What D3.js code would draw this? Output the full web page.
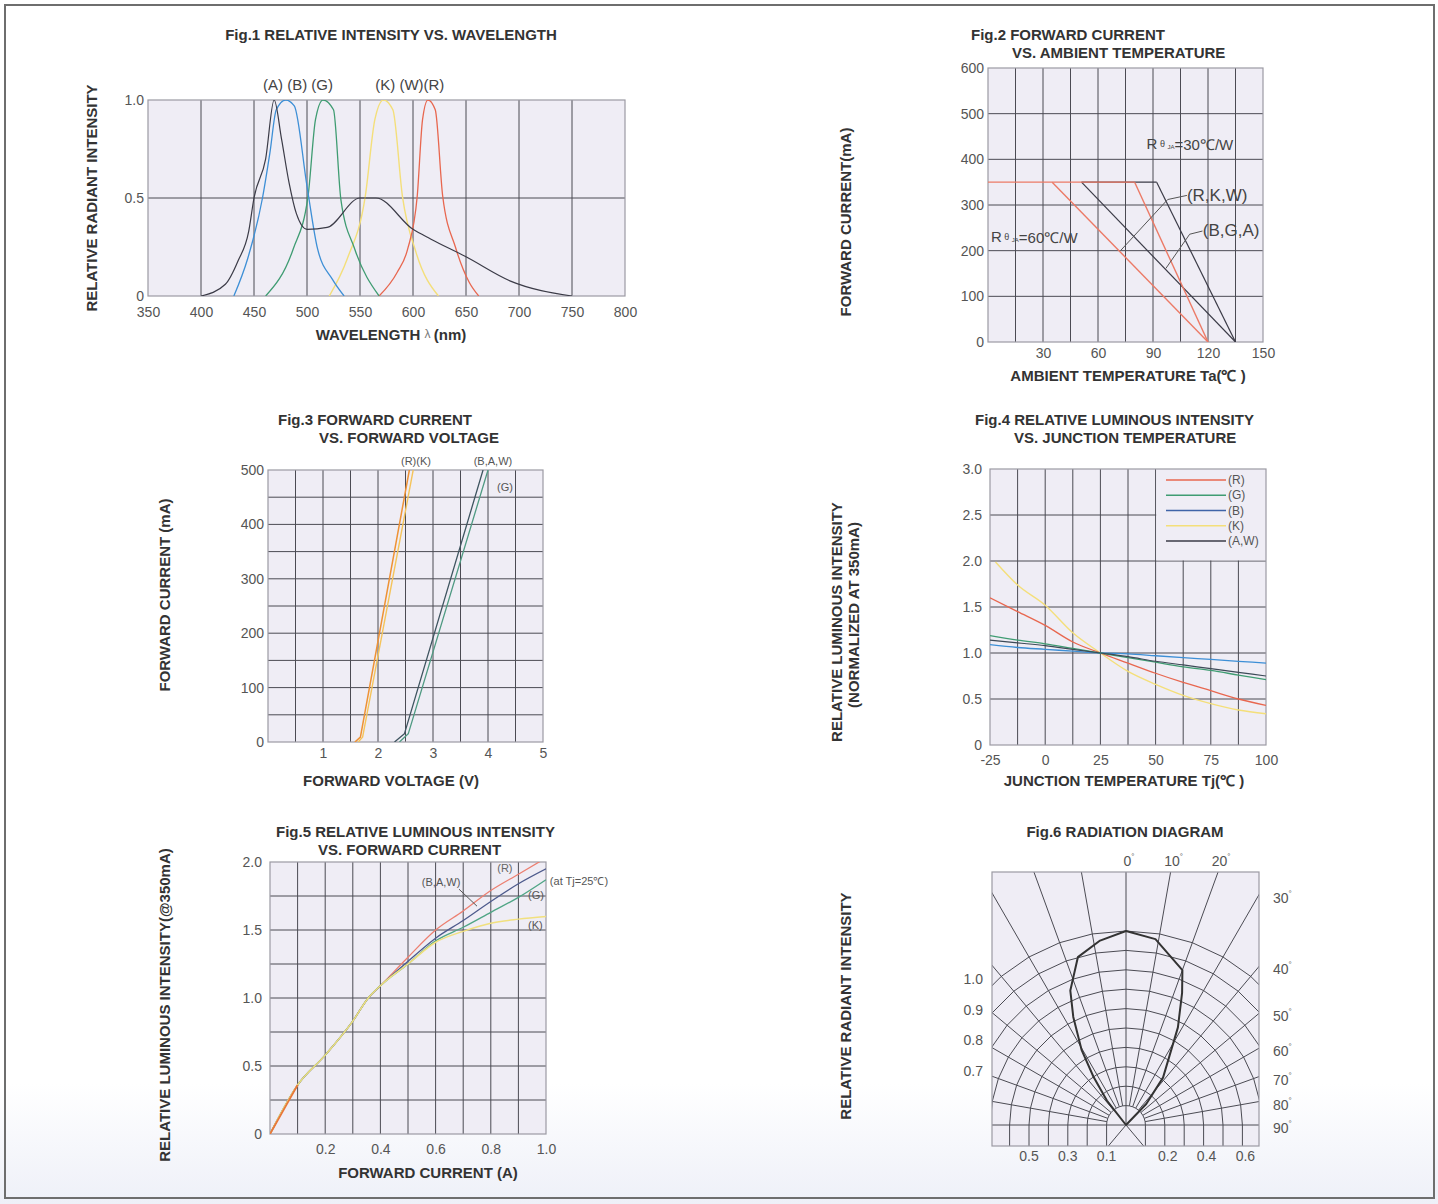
<!DOCTYPE html>
<html>
<head>
<meta charset="utf-8">
<script src="https://cdn.jsdelivr.net/npm/d3@7"></script>
<style>
  body { margin: 0; background: #fff; }
  svg text { font-family: "Liberation Sans", Arial, Helvetica, sans-serif; }
</style>
</head>
<body>
<svg id="chart" width="1438" height="1204"></svg>
<script>
// ---------- data ----------
// Fig.1 relative intensity vs wavelength
var specA_nm  = [400, 423, 435, 445, 450, 461, 469, 476, 483, 490, 500, 519, 550, 565, 600, 617, 650, 692, 750];
var specA_val = [0, 0.06, 0.18, 0.33, 0.5, 0.7, 1.0, 0.8, 0.58, 0.42, 0.34, 0.35, 0.5, 0.5, 0.34, 0.29, 0.2, 0.076, 0];
var specB_nm  = [431, 444, 458, 465, 471, 480, 488, 500, 510, 524, 535];
var specB_val = [0, 0.19, 0.5, 0.73, 0.95, 1.0, 0.97, 0.56, 0.24, 0.085, 0];
var specG_nm  = [461, 487, 501, 508, 515, 525, 532, 545, 568];
var specG_val = [0, 0.24, 0.51, 0.9, 1.0, 0.95, 0.49, 0.24, 0];
var specK_nm  = [521, 538, 555, 564, 572, 581, 590, 603, 624];
var specK_val = [0, 0.19, 0.51, 0.9, 1.0, 0.95, 0.51, 0.22, 0];
var specR_nm  = [568, 585, 595, 604, 609, 614, 621, 628, 640, 653, 662];
var specR_val = [0, 0.12, 0.24, 0.51, 0.9, 1.0, 0.95, 0.51, 0.25, 0.07, 0];

// Fig.2 forward current vs ambient temperature (derating)
var derRedFlat_T = [0, 80],   derRedFlat_I = [350, 350];
var derRed60_T   = [35, 120], derRed60_I   = [350, 0];
var derRed30_T   = [80, 120], derRed30_I   = [350, 0];
var derDkFlat_T  = [51, 92],  derDkFlat_I  = [350, 350];
var derDk60_T    = [51, 135], derDk60_I    = [350, 0];
var derDk30_T    = [92, 135], derDk30_I    = [350, 0];
var leadRKW_T = [108.5, 98, 72.5], leadRKW_I = [321, 312, 201];
var leadBGA_T = [117, 110, 97],    leadBGA_I = [243, 236, 161];

// Fig.3 forward current vs forward voltage
var ivR_V = [1.58, 1.68, 2.57], ivR_I = [0, 9, 500];
var ivK_V = [1.64, 1.72, 2.64], ivK_I = [0, 9, 500];
var ivB_V = [2.30, 2.48, 3.91], ivB_I = [0, 15, 500];
var ivG_V = [2.39, 2.55, 4.00], ivG_I = [0, 15, 500];

// Fig.4 relative luminous intensity vs junction temperature
var tj      = [-25, -12.5, 0, 12.5, 25, 37.5, 50, 62.5, 75, 87.5, 100];
var tjR     = [1.60, 1.45, 1.30, 1.12, 1.0, 0.89, 0.78, 0.68, 0.59, 0.50, 0.43];
var tjG     = [1.19, 1.14, 1.10, 1.05, 1.0, 0.95, 0.90, 0.85, 0.81, 0.76, 0.71];
var tjB     = [1.09, 1.06, 1.04, 1.02, 1.0, 0.99, 0.97, 0.95, 0.93, 0.91, 0.89];
var tjAW    = [1.14, 1.11, 1.08, 1.04, 1.0, 0.96, 0.91, 0.87, 0.83, 0.79, 0.75];
var tjK_T   = [-22.5, -12.5, 0, 12.5, 25, 37.5, 50, 62.5, 75, 87.5, 100];
var tjK     = [1.99, 1.74, 1.52, 1.22, 1.0, 0.80, 0.66, 0.54, 0.45, 0.38, 0.34];
var tjNames = ["(R)", "(G)", "(B)", "(K)", "(A,W)"];

// Fig.5 relative luminous intensity vs forward current
var ifA  = [0, 0.1, 0.2, 0.3, 0.356, 0.4, 0.5, 0.6, 0.7, 0.8, 0.9, 1.0];
var ifR  = [0, 0.36, 0.58, 0.83, 1.0, 1.09, 1.30, 1.50, 1.64, 1.79, 1.91, 2.03];
var ifB  = [0, 0.36, 0.58, 0.83, 1.0, 1.09, 1.27, 1.44, 1.57, 1.71, 1.84, 1.95];
var ifG  = [0, 0.36, 0.58, 0.83, 1.0, 1.09, 1.25, 1.42, 1.52, 1.63, 1.74, 1.87];
var ifK  = [0, 0.36, 0.58, 0.83, 1.0, 1.09, 1.25, 1.41, 1.49, 1.55, 1.58, 1.60];
var ifStart_A = [0, 0.1], ifStart_V = [0, 0.36];
var leadBAW_A = [0.685, 0.75], leadBAW_V = [1.80, 1.675];

// Fig.6 radiation diagram
var radAngle = [-40, -38, -34, -30.6, -26, -22.5, -16, -8, 0, 9, 20, 23, 28, 38, 44, 46];
var radValue = [0, 0.16, 0.30, 0.45, 0.62, 0.75, 0.90, 0.96, 1.0, 0.97, 0.85, 0.74, 0.57, 0.31, 0.15, 0];
var radRings = [0.1, 0.2, 0.3, 0.4, 0.5, 0.6, 0.7, 0.8, 0.9, 1.0];
var radSpokes = d3.range(-80, 81, 10);
var radFullSpokes = [-140, -90, 0, 90, 140];
var radTopLabels = [0, 10, 20];
var radSideLabels = [30, 40, 50, 60, 70, 80, 90];
var radLeftVals = [1.0, 0.9, 0.8, 0.7];
var radBotLeft = [0.5, 0.3, 0.1];
var radBotRight = [0.2, 0.4, 0.6];

// ---------- setup ----------
var svg = d3.select("#chart");
var defs = svg.append("defs");
var plotBg = "#efedf5", gridCol = "#4b4b53", edgeCol = "#9b9aa3", tickCol = "#555";
var cRed = "#e8674f", cBlue = "#3d8fd6", cGreen = "#3f9c72", cYellow = "#f4df7a", cDark = "#3b3b47";
var clipN = 0;

var pg = defs.append("linearGradient").attr("id", "pagegrad")
    .attr("x1", 0).attr("y1", 0).attr("x2", 0).attr("y2", 1);
pg.append("stop").attr("offset", "0.9").attr("stop-color", "#ffffff");
pg.append("stop").attr("offset", "1").attr("stop-color", "#eef0f8");
svg.append("rect").attr("width", 1438).attr("height", 1204).attr("fill", "url(#pagegrad)");
svg.append("rect").attr("x", 5).attr("y", 5).attr("width", 1429).attr("height", 1193)
    .attr("fill", "none").attr("stroke", "#6e6e6e").attr("stroke-width", 2);

function label(txt, x, y, o) {
    o = o || {};
    var t = svg.append("text")
        .attr("x", x).attr("y", y)
        .attr("font-size", o.size || 15)
        .attr("font-weight", o.bold === false ? "normal" : "bold")
        .attr("fill", o.fill || "#333")
        .attr("text-anchor", o.anchor || "middle")
        .attr("dominant-baseline", "central")
        .text(txt);
    if (o.rotate) t.attr("transform", "rotate(-90," + x + "," + y + ")");
    return t;
}

function makePanel(o) {
    var x = d3.scaleLinear().domain(o.xd).range([o.l, o.r]);
    var y = d3.scaleLinear().domain(o.yd).range([o.b, o.t]);
    var g = svg.append("g");
    g.append("rect").attr("x", o.l).attr("y", o.t)
        .attr("width", o.r - o.l).attr("height", o.b - o.t).attr("fill", plotBg);
    g.selectAll(null).data(o.xg).enter().append("line")
        .attr("x1", function (d) { return x(d); }).attr("x2", function (d) { return x(d); })
        .attr("y1", o.t).attr("y2", o.b)
        .attr("stroke", gridCol).attr("stroke-width", 1);
    g.selectAll(null).data(o.yg).enter().append("line")
        .attr("y1", function (d) { return y(d); }).attr("y2", function (d) { return y(d); })
        .attr("x1", o.l).attr("x2", o.r)
        .attr("stroke", gridCol).attr("stroke-width", 1);
    if (o.cover) {
        g.append("rect")
            .attr("x", x(o.cover[0]) + 0.6).attr("y", y(o.cover[3]))
            .attr("width", x(o.cover[1]) - x(o.cover[0]) - 0.6)
            .attr("height", y(o.cover[2]) - y(o.cover[3]) - 0.6)
            .attr("fill", plotBg);
    }
    g.append("rect").attr("x", o.l).attr("y", o.t)
        .attr("width", o.r - o.l).attr("height", o.b - o.t)
        .attr("fill", "none").attr("stroke", edgeCol).attr("stroke-width", 1.2);

    var cid = "clip" + (clipN++);
    defs.append("clipPath").attr("id", cid).append("rect")
        .attr("x", o.l).attr("y", o.t).attr("width", o.r - o.l).attr("height", o.b - o.t);
    var plot = svg.append("g").attr("clip-path", "url(#" + cid + ")");

    var xa = svg.append("g").attr("transform", "translate(0," + o.b + ")").attr("color", tickCol)
        .call(d3.axisBottom(x).tickValues(o.xt).tickFormat(o.xf || function (d) { return d; })
            .tickSize(0).tickPadding(o.xp));
    xa.select(".domain").remove();
    xa.selectAll("text").attr("font-size", 14).attr("font-family", null);

    var ya = svg.append("g").attr("transform", "translate(" + o.l + ",0)").attr("color", tickCol)
        .call(d3.axisLeft(y).tickValues(o.yt).tickFormat(o.yf || function (d) { return d; })
            .tickSize(0).tickPadding(o.yp));
    ya.select(".domain").remove();
    ya.selectAll("text").attr("font-size", 14).attr("font-family", null);

    return { x: x, y: y, plot: plot };
}

function drawLine(p, xs, ys, color, w, curve, layer) {
    var pts = xs.map(function (v, i) { return [v, ys[i]]; });
    (layer || p.plot).append("path").datum(pts)
        .attr("d", d3.line()
            .x(function (d) { return p.x(d[0]); })
            .y(function (d) { return p.y(d[1]); })
            .curve(curve || d3.curveLinear))
        .attr("fill", "none").attr("stroke", color).attr("stroke-width", w || 1.3)
        .attr("stroke-linejoin", "round");
}

function oneDec(d) { return d === 0 ? "0" : d.toFixed(1); }

// ---------- Fig.1 ----------
var p1 = makePanel({
    l: 148, r: 625, t: 100, b: 296, xd: [350, 800], yd: [0, 1],
    xg: d3.range(400, 751, 50), yg: [0.5],
    xt: d3.range(350, 801, 50), yt: [0, 0.5, 1], yf: oneDec, xp: 11, yp: 4
});
drawLine(p1, specK_nm, specK_val, cYellow, 1.4, d3.curveMonotoneX);
drawLine(p1, specR_nm, specR_val, cRed, 1.3, d3.curveMonotoneX);
drawLine(p1, specG_nm, specG_val, cGreen, 1.3, d3.curveMonotoneX);
drawLine(p1, specB_nm, specB_val, cBlue, 1.3, d3.curveMonotoneX);
drawLine(p1, specA_nm, specA_val, cDark, 1.2, d3.curveMonotoneX);
label("Fig.1 RELATIVE INTENSITY VS. WAVELENGTH", 391, 34);
label("RELATIVE RADIANT INTENSITY", 91, 198, { rotate: true });
var wl = label("WAVELENGTH ", 391, 334);
wl.append("tspan").attr("font-weight", "normal").attr("font-size", 12).attr("fill", "#777").text(" λ ");
wl.append("tspan").text("(nm)");
label("(A) (B) (G)", p1.x(491.5), p1.y(1.077), { bold: false, size: 15, fill: "#444" });
label("(K) (W)(R)", p1.x(597), p1.y(1.077), { bold: false, size: 15, fill: "#444" });

// ---------- Fig.2 ----------
var p2 = makePanel({
    l: 988, r: 1263, t: 68, b: 342, xd: [0, 150], yd: [0, 600],
    xg: d3.range(15, 136, 15), yg: d3.range(100, 501, 100),
    xt: [30, 60, 90, 120, 150], yt: d3.range(0, 601, 100), xp: 6, yp: 4
});
var redD = "#ec7a66";
drawLine(p2, derDk60_T, derDk60_I, cDark, 1.2);
drawLine(p2, derDk30_T, derDk30_I, cDark, 1.2);
drawLine(p2, derDkFlat_T, derDkFlat_I, cDark, 1.2);
drawLine(p2, derRedFlat_T, derRedFlat_I, redD, 1.4);
drawLine(p2, derRed60_T, derRed60_I, redD, 1.4);
drawLine(p2, derRed30_T, derRed30_I, redD, 1.4);
drawLine(p2, leadRKW_T, leadRKW_I, "#555", 1, d3.curveLinear);
drawLine(p2, leadBGA_T, leadBGA_I, "#555", 1, d3.curveLinear);
label("Fig.2 FORWARD CURRENT", 971, 34, { anchor: "start" });
label("VS. AMBIENT TEMPERATURE", 1012, 52, { anchor: "start" });
label("FORWARD CURRENT(mA)", 845, 222, { rotate: true });
label("AMBIENT TEMPERATURE Ta(℃ )", 1128, 375);
function rTheta(txt, T, I) {
    var t = label("R", p2.x(T), p2.y(I), { anchor: "start", bold: false, size: 15, fill: "#444" });
    t.append("tspan").attr("font-size", 9).text(" θ ");
    t.append("tspan").attr("font-size", 6).attr("dy", 3).text("JA");
    t.append("tspan").attr("dy", -3).text("=" + txt + "℃/W");
}
rTheta("30", 86.5, 434);
rTheta("60", 1.6, 231);
label("(R,K,W)", p2.x(108.5), p2.y(321), { anchor: "start", bold: false, size: 17, fill: "#444" });
label("(B,G,A)", p2.x(117.2), p2.y(244), { anchor: "start", bold: false, size: 17, fill: "#444" });

// ---------- Fig.3 ----------
var p3 = makePanel({
    l: 268, r: 543, t: 470, b: 742, xd: [0, 5], yd: [0, 500],
    xg: d3.range(0.5, 4.6, 0.5), yg: d3.range(50, 451, 50),
    xt: [1, 2, 3, 4, 5], yt: d3.range(0, 501, 100), xp: 6, yp: 4
});
drawLine(p3, ivK_V, ivK_I, "#f5c45a", 1.4);
drawLine(p3, ivR_V, ivR_I, "#ee9235", 1.5);
drawLine(p3, ivG_V, ivG_I, "#4f9a82", 1.3);
drawLine(p3, ivB_V, ivB_I, "#3f5560", 1.3);
label("Fig.3 FORWARD CURRENT", 278, 419, { anchor: "start" });
label("VS. FORWARD VOLTAGE", 319, 437, { anchor: "start" });
label("FORWARD CURRENT (mA)", 164, 595, { rotate: true });
label("FORWARD VOLTAGE (V)", 391, 780);
label("(R)(K)", p3.x(2.69), p3.y(516), { bold: false, size: 11, fill: "#555" });
label("(B,A,W)", p3.x(4.09), p3.y(516), { bold: false, size: 11, fill: "#555" });
label("(G)", p3.x(4.31), p3.y(469), { bold: false, size: 11, fill: "#555" });

// ---------- Fig.4 ----------
var p4 = makePanel({
    l: 990, r: 1266, t: 469, b: 745, xd: [-25, 100], yd: [0, 3],
    xg: d3.range(-12.5, 88, 12.5), yg: [0.5, 1, 1.5, 2, 2.5],
    xt: [-25, 0, 25, 50, 75, 100], yt: [0, 0.5, 1, 1.5, 2, 2.5, 3], yf: oneDec, xp: 10, yp: 8,
    cover: [50, 100, 2, 3]
});
var tjColors = [cRed, cGreen, "#3f64a8", cYellow, cDark];
drawLine(p4, tjK_T, tjK, cYellow, 1.4, d3.curveMonotoneX);
drawLine(p4, tj, tjR, cRed, 1.3, d3.curveMonotoneX);
drawLine(p4, tj, tjB, cBlue, 1.3, d3.curveMonotoneX);
drawLine(p4, tj, tjG, cGreen, 1.3, d3.curveMonotoneX);
drawLine(p4, tj, tjAW, "#3d4a58", 1.2, d3.curveMonotoneX);
var legY = d3.scalePoint().domain(tjNames).range([480, 541]);
var leg = svg.append("g");
leg.selectAll(null).data(tjNames).enter().append("line")
    .attr("x1", 1166).attr("x2", 1226)
    .attr("y1", function (d) { return legY(d); }).attr("y2", function (d) { return legY(d); })
    .attr("stroke", function (d, i) { return tjColors[i]; }).attr("stroke-width", 1.3);
leg.selectAll(null).data(tjNames).enter().append("text")
    .attr("x", 1228).attr("y", function (d) { return legY(d); })
    .attr("dominant-baseline", "central").attr("font-size", 12).attr("fill", "#555")
    .text(function (d) { return d; });
label("Fig.4 RELATIVE LUMINOUS INTENSITY", 975, 419, { anchor: "start" });
label("VS. JUNCTION TEMPERATURE", 1014, 437, { anchor: "start" });
label("RELATIVE LUMINOUS INTENSITY", 836, 622, { rotate: true });
label("(NORMALIZED AT 350mA)", 853, 615, { rotate: true });
label("JUNCTION TEMPERATURE Tj(℃ )", 1124, 780);

// ---------- Fig.5 ----------
var p5 = makePanel({
    l: 270, r: 546, t: 862, b: 1134, xd: [0, 1], yd: [0, 2],
    xg: d3.range(0.1, 0.95, 0.1), yg: d3.range(0.25, 1.8, 0.25),
    xt: [0.2, 0.4, 0.6, 0.8, 1.0], xf: function (d) { return d.toFixed(1); },
    yt: [0, 0.5, 1, 1.5, 2], yf: oneDec, xp: 10, yp: 8
});
drawLine(p5, ifA, ifR, "#ec7f70", 1.3, d3.curveMonotoneX);
drawLine(p5, ifA, ifB, "#4d5a8c", 1.3, d3.curveMonotoneX);
drawLine(p5, ifA, ifG, "#4fa585", 1.3, d3.curveMonotoneX);
drawLine(p5, ifA, ifK, "#f1e07e", 1.5, d3.curveMonotoneX);
drawLine(p5, ifStart_A, ifStart_V, "#e8763a", 1.8);
drawLine(p5, leadBAW_A, leadBAW_V, "#555", 1);
label("Fig.5 RELATIVE LUMINOUS INTENSITY", 276, 831, { anchor: "start" });
label("VS. FORWARD CURRENT", 318, 849, { anchor: "start" });
label("RELATIVE LUMINOUS INTENSITY(@350mA)", 164, 1005, { rotate: true });
label("FORWARD CURRENT (A)", 428, 1172);
label("(R)", p5.x(0.851), p5.y(1.956), { bold: false, size: 11, fill: "#666" });
label("(B,A,W)", p5.x(0.62), p5.y(1.85), { bold: false, size: 11, fill: "#555" });
label("(at Tj=25℃)", p5.x(1.014), p5.y(1.86), { anchor: "start", bold: false, size: 11, fill: "#555" });
label("(G)", p5.x(0.935), p5.y(1.76), { anchor: "start", bold: false, size: 11, fill: "#555" });
label("(K)", p5.x(0.935), p5.y(1.54), { anchor: "start", bold: false, size: 11, fill: "#555" });

// ---------- Fig.6 ----------
var box = { l: 992, r: 1259, t: 872, b: 1146 }, cx = 1126, cy = 1125;
var rad = d3.scaleLinear().domain([0, 1]).range([0, 194]);
svg.append("rect").attr("x", box.l).attr("y", box.t)
    .attr("width", box.r - box.l).attr("height", box.b - box.t).attr("fill", plotBg);
defs.append("clipPath").attr("id", "clipRad").append("rect")
    .attr("x", box.l).attr("y", box.t).attr("width", box.r - box.l).attr("height", box.b - box.t);
var rg = svg.append("g").attr("clip-path", "url(#clipRad)");
var rc = rg.append("g").attr("transform", "translate(" + cx + "," + cy + ")");
var ringAngles = d3.range(-90, 91, 10);
var radial = d3.lineRadial().angle(function (d) { return d[0] * Math.PI / 180; })
    .radius(function (d) { return rad(d[1]); });
rc.selectAll(null).data(radRings).enter().append("path")
    .attr("d", function (v) { return radial(ringAngles.map(function (a) { return [a, v]; })); })
    .attr("fill", "none").attr("stroke", gridCol).attr("stroke-width", 1);
// ring tails below the 90 degree line
rc.selectAll(null).data(radRings.concat(radRings.map(function (v) { return -v; }))).enter().append("line")
    .attr("x1", function (v) { return v < 0 ? -rad(-v) : rad(v); })
    .attr("x2", function (v) { return v < 0 ? -rad(-v) : rad(v); })
    .attr("y1", 0).attr("y2", box.b - cy)
    .attr("stroke", gridCol).attr("stroke-width", 1);
// spokes start at the first ring; a few run right to the centre
rc.selectAll(null).data(radSpokes.filter(function (a) { return a !== 0; })).enter().append("path")
    .attr("d", function (a) { return radial([[a, radRings[0]], [a, 2]]); })
    .attr("stroke", gridCol).attr("stroke-width", 1);
rc.selectAll(null).data(radFullSpokes).enter().append("path")
    .attr("d", function (a) { return radial([[a, 0], [a, 2]]); })
    .attr("stroke", gridCol).attr("stroke-width", 1);
rc.append("path")
    .attr("d", radial(radAngle.map(function (a, i) { return [a, radValue[i]]; })))
    .attr("fill", "none").attr("stroke", "#333").attr("stroke-width", 2).attr("stroke-linejoin", "round");
svg.append("rect").attr("x", box.l).attr("y", box.t)
    .attr("width", box.r - box.l).attr("height", box.b - box.t)
    .attr("fill", "none").attr("stroke", edgeCol).attr("stroke-width", 1.2);

function degLabel(a, x, y, anchor) {
    var t = svg.append("text").attr("x", x).attr("y", y)
        .attr("text-anchor", anchor).attr("dominant-baseline", "central")
        .attr("font-size", 14).attr("fill", tickCol).text(a);
    t.append("tspan").attr("font-size", 8).attr("dy", -5).text("°");
}
radTopLabels.forEach(function (a) {
    degLabel(a, cx + (cy - box.t) * Math.tan(a * Math.PI / 180) + 3, box.t - 11, "middle");
});
radSideLabels.forEach(function (a) {
    var yy = a === 90 ? cy : cy - (box.r - cx) / Math.tan(a * Math.PI / 180);
    degLabel(a, box.r + 14, yy + 3, "start");
});
var leftY = d3.scaleLinear().domain([0.7, 1.0]).range([1071, 979]);
radLeftVals.forEach(function (v) {
    svg.append("text").attr("x", 983).attr("y", leftY(v)).attr("text-anchor", "end")
        .attr("dominant-baseline", "central").attr("font-size", 14).attr("fill", tickCol).text(v.toFixed(1));
});
radBotLeft.forEach(function (v) {
    svg.append("text").attr("x", cx - rad(v)).attr("y", 1156).attr("text-anchor", "middle")
        .attr("dominant-baseline", "central").attr("font-size", 14).attr("fill", tickCol).text(v.toFixed(1));
});
radBotRight.forEach(function (v) {
    svg.append("text").attr("x", cx + rad(v) + 3).attr("y", 1156).attr("text-anchor", "middle")
        .attr("dominant-baseline", "central").attr("font-size", 14).attr("fill", tickCol).text(v.toFixed(1));
});
label("Fig.6 RADIATION DIAGRAM", 1125, 831);
label("RELATIVE RADIANT INTENSITY", 845, 1006, { rotate: true });
</script>
</body>
</html>
